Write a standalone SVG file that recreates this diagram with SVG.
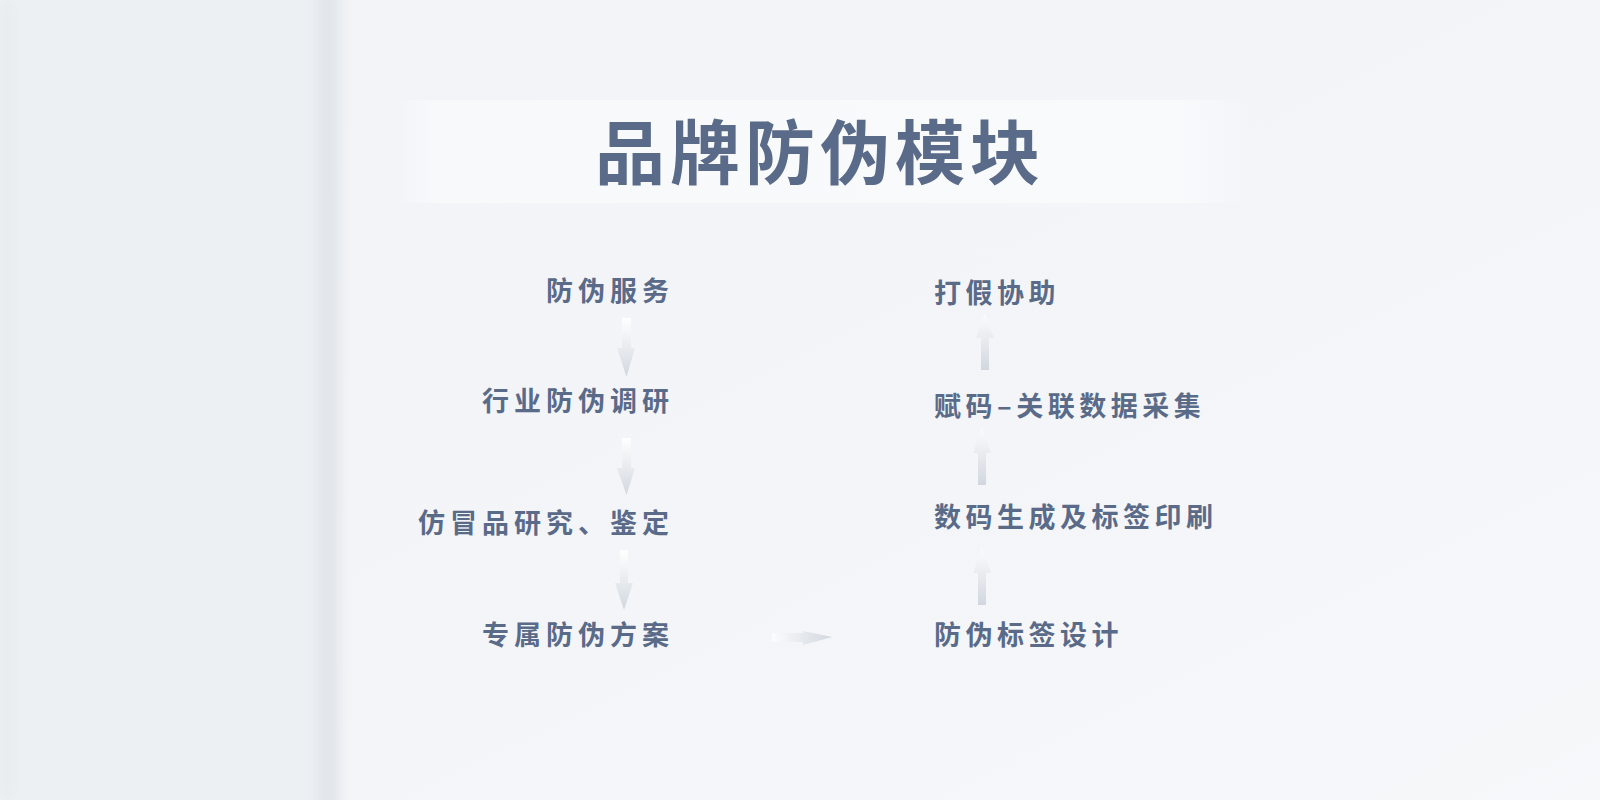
<svg xmlns="http://www.w3.org/2000/svg" width="1600" height="800" viewBox="0 0 1600 800">
  <defs>
    <linearGradient id="bgGrad" x1="0" y1="0" x2="1" y2="1">
      <stop offset="0" stop-color="#f1f3f6"/>
      <stop offset="0.6" stop-color="#f4f5f8"/>
      <stop offset="1" stop-color="#f7f8fa"/>
    </linearGradient>
    <linearGradient id="band" x1="0" y1="0" x2="1" y2="0">
      <stop offset="0" stop-color="#f8f9fb" stop-opacity="0"/>
      <stop offset="0.05" stop-color="#f8f9fb"/>
      <stop offset="0.92" stop-color="#f9fafc"/>
      <stop offset="1" stop-color="#f9fafc" stop-opacity="0"/>
    </linearGradient>
    <linearGradient id="down" x1="0" y1="0" x2="0" y2="1">
      <stop offset="0" stop-color="#ffffff"/>
      <stop offset="1" stop-color="#d2d7df"/>
    </linearGradient>
    <linearGradient id="up" x1="0" y1="1" x2="0" y2="0">
      <stop offset="0" stop-color="#d2d7df"/>
      <stop offset="1" stop-color="#fbfcfd"/>
    </linearGradient>
    <linearGradient id="right" x1="0" y1="0" x2="1" y2="0">
      <stop offset="0" stop-color="#fbfcfd"/>
      <stop offset="1" stop-color="#d2d7df"/>
    </linearGradient>
    <filter id="blur" x="-50%" y="-5%" width="200%" height="110%">
      <feGaussianBlur stdDeviation="6"/>
    </filter>
  </defs>
  <style>
    .title { font-family: "Noto Sans CJK SC", "Noto Sans", sans-serif; font-weight: 700; font-size: 70px; fill: #5a6b89; letter-spacing: 5px; }
    .lbl { font-family: "Noto Sans CJK SC", "Noto Sans", sans-serif; font-weight: 700; font-size: 27px; fill: #5a6b89; letter-spacing: 5px; }
    .l { text-anchor: end; }
    .r { text-anchor: start; letter-spacing: 4.5px; }
  </style>

  <!-- background -->
  <rect x="0" y="0" width="1600" height="800" fill="url(#bgGrad)"/>
  <rect x="0" y="0" width="330" height="800" fill="#edf0f3"/>
  <rect x="0" y="0" width="12" height="800" fill="#e8ebef" filter="url(#blur)"/>
  <rect x="316" y="-20" width="24" height="840" fill="#e2e6eb" filter="url(#blur)"/>

  <!-- title band -->
  <rect x="395" y="100" width="850" height="103" fill="url(#band)"/>

  <g id="title">
    <text class="title" x="820" y="179" text-anchor="middle">品牌防伪模块</text>
  </g>

  <!-- left column -->
  <g id="n-fangweifuwu"><text class="lbl l" x="674" y="301">防伪服务</text></g>
  <g id="n-hangyediaoyan"><text class="lbl l" x="674" y="411">行业防伪调研</text></g>
  <g id="n-fangmaopin"><text class="lbl l" x="674" y="533">仿冒品研究、鉴定</text></g>
  <g id="n-zhuanshu"><text class="lbl l" x="674" y="645">专属防伪方案</text></g>

  <!-- right column -->
  <g id="n-dajia"><text class="lbl r" x="934" y="303">打假协助</text></g>
  <g id="n-fuma"><text class="lbl r" x="934" y="416">赋码–关联数据采集</text></g>
  <g id="n-shuma"><text class="lbl r" x="934" y="527">数码生成及标签印刷</text></g>
  <g id="n-biaoqian"><text class="lbl r" x="934" y="645">防伪标签设计</text></g>

  <!-- connectors -->
  <g id="connectors">
    <path d="M622 318 H631 V348 H635 L626.5 377 L617 348 H622 Z" fill="url(#down)"/>
    <path d="M622 438 H631 V468 H635 L626.5 495 L617 468 H622 Z" fill="url(#down)"/>
    <path d="M620 550 H628 V583 H633 L624 610 L615 583 H620 Z" fill="url(#down)"/>
    <path d="M772 633 H803 V631 L832 637 L803 645 V642 H772 Z" fill="url(#right)"/>
    <path d="M978 605 V573 H973 L982 548 L991 573 H986 V605 Z" fill="url(#up)"/>
    <path d="M978 485 V453 H973 L982 427 L991 453 H986 V485 Z" fill="url(#up)"/>
    <path d="M981 370 V338 H976 L985 313 L994 338 H989 V370 Z" fill="url(#up)"/>
  </g>
</svg>
